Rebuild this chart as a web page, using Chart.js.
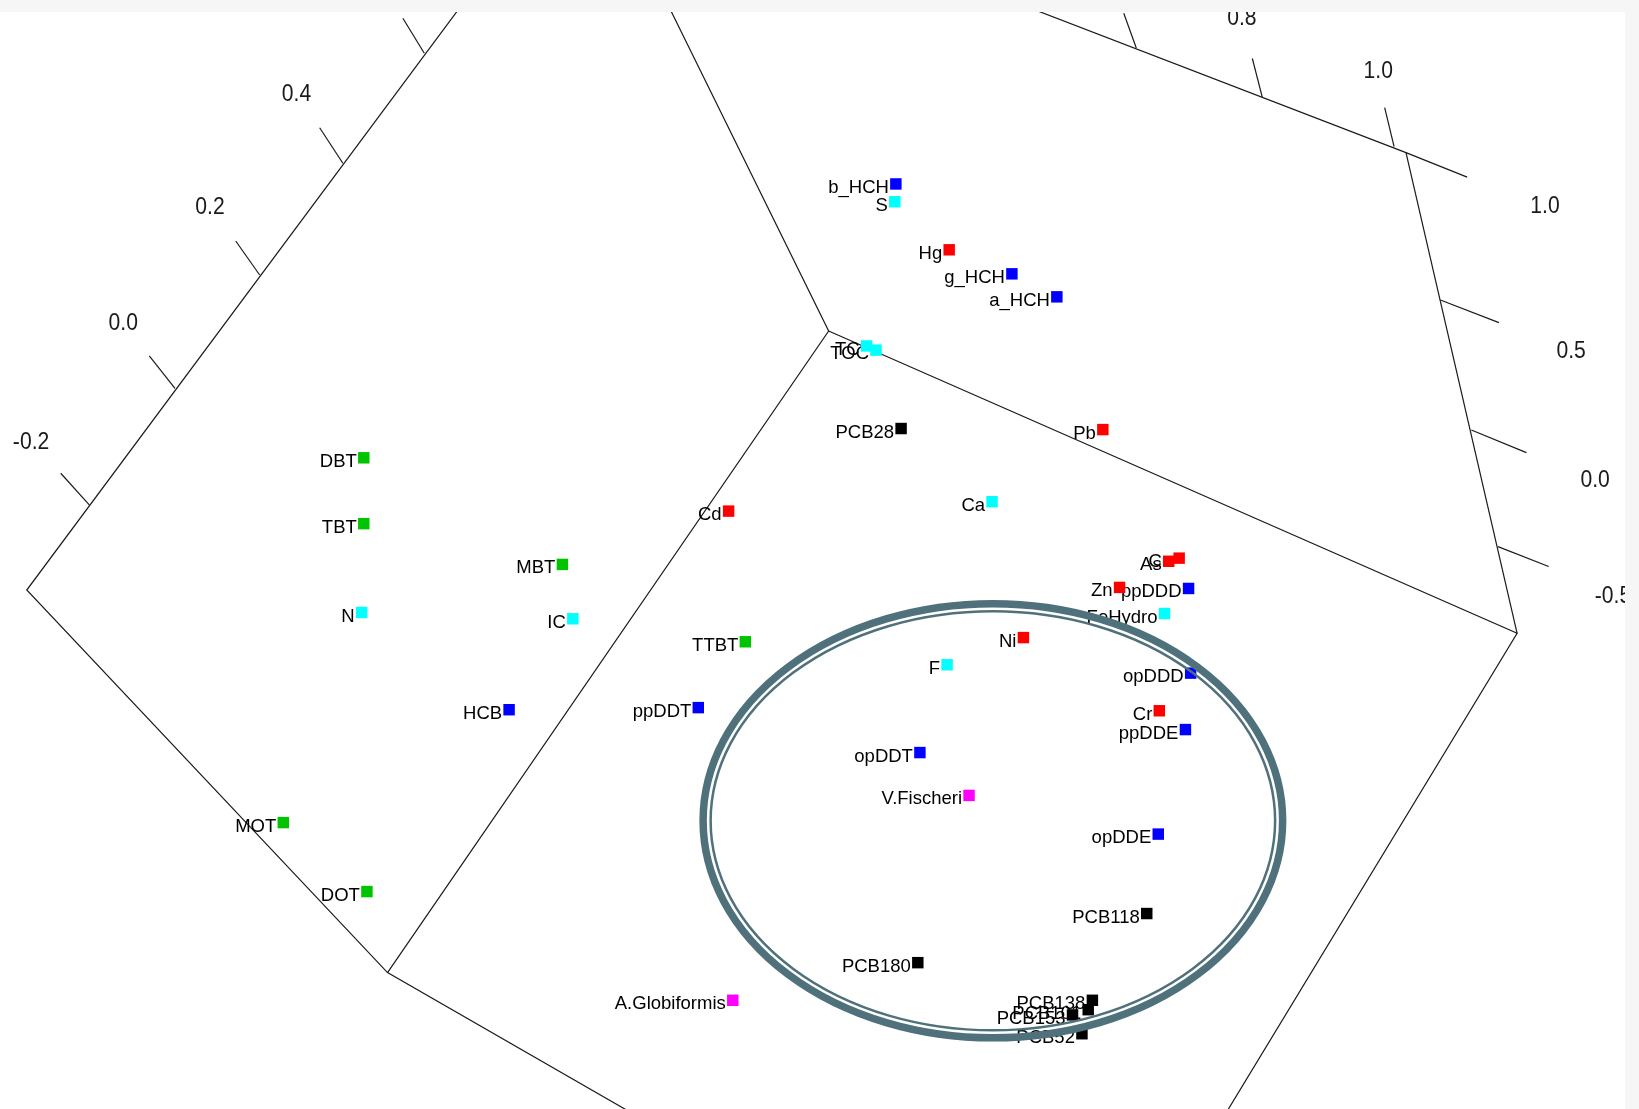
<!DOCTYPE html>
<html>
<head>
<meta charset="utf-8">
<title>3D scatter</title>
<script src="https://cdn.jsdelivr.net/npm/chart.js@4.4.0/dist/chart.umd.min.js"></script>
<style>
  html, body { margin: 0; padding: 0; background: #f6f6f6; }
  #wrap { width: 1639px; height: 1109px; }
</style>
</head>
<body>
<div id="wrap"><canvas id="chart" width="1639" height="1109"></canvas></div>
<script>
// --- data: projected view coordinates ---
const names = ['b_HCH', 'S', 'Hg', 'g_HCH', 'a_HCH', 'TC', 'TOC', 'PCB28', 'Pb', 'DBT',
  'Cd', 'Ca', 'TBT', 'As', 'Cu', 'MBT', 'Zn', 'ppDDD', 'N', 'IC',
  'FeHydro', 'TTBT', 'Ni', 'F', 'opDDD', 'HCB', 'ppDDT', 'Cr', 'ppDDE', 'opDDT',
  'V.Fischeri', 'MOT', 'opDDE', 'DOT', 'PCB118', 'PCB180', 'A.Globiformis', 'PCB138', 'PCB101', 'PCB153',
  'PCB52'];
const px = [0.57, 0.56, 1.08, 1.68, 2.11, 0.29, 0.38, 0.62, 2.55, -4.52,
  -1.03, 1.49, -4.52, 3.18, 3.28, -2.62, 2.71, 3.37, -4.54, -2.52,
  3.14, -0.87, 1.79, 1.06, 3.39, -3.13, -1.32, 3.09, 3.34, 0.80,
  1.27, -5.29, 3.08, -4.49, 2.97, 0.78, -0.99, 2.45, 2.41, 2.26,
  2.35];
const py = [3.54, 3.37, 2.91, 2.68, 2.46, 1.99, 1.95, 1.20, 1.19, 0.92,
  0.41, 0.50, 0.29, -0.07, -0.04, -0.10, -0.32, -0.33, -0.56, -0.62,
  -0.57, -0.84, -0.80, -1.06, -1.14, -1.49, -1.47, -1.50, -1.68, -1.90,
  -2.31, -2.57, -2.68, -3.23, -3.44, -3.91, -4.27, -4.27, -4.36, -4.41,
  -4.59];
const groups = ['oc', 'sed', 'metal', 'oc', 'oc', 'sed', 'sed', 'pcb', 'metal', 'tin',
  'metal', 'sed', 'tin', 'metal', 'metal', 'tin', 'metal', 'oc', 'sed', 'sed',
  'sed', 'tin', 'metal', 'sed', 'oc', 'oc', 'oc', 'metal', 'oc', 'oc',
  'bio', 'tin', 'oc', 'tin', 'pcb', 'pcb', 'bio', 'pcb', 'pcb', 'pcb',
  'pcb'];
const groupNames = ['metal', 'oc', 'tin', 'sed', 'pcb', 'bio'];
const groupColors = ['#ff0000', '#0000ff', '#00c400', '#00ffff', '#000000', '#ff00ff'];

// 3D box edges as polylines
const edgeX = [
  [-3.547, -7.744, -4.293, -1.693],
  [-4.293, -0.073, -1.633],
  [-0.073, 6.513, 3.636],
  [6.513, 5.45],
  [1.654, 5.45, 6.035]
];
const edgeY = [
  [5.30, -0.345, -4.005, -5.50],
  [-4.005, 2.133, 5.30],
  [2.133, -0.759, -5.50],
  [-0.759, 3.84],
  [5.30, 3.84, 3.605]
];

// tick marks (start on axis, end outside)
const tickX = [
  [-3.941, -4.146], [-4.72, -4.942], [-5.516, -5.745], [-6.326, -6.572], [-7.146, -7.419],
  [2.87, 2.75], [4.075, 3.98], [5.336, 5.246],
  [5.779, 6.339], [6.075, 6.602], [6.33, 6.815]
];
const tickY = [
  [4.79, 5.125], [3.738, 4.078], [2.669, 2.994], [1.585, 1.894], [0.469, 0.772],
  [4.84, 5.173], [4.37, 4.74], [3.897, 4.27],
  [2.43, 2.213], [1.186, 0.97], [0.07, -0.12]
];

// tick labels
const tickText = ['-0.2', '0.0', '0.2', '0.4', '0.8', '1.0', '1.0', '0.5', '0.0', '-0.5'];
const tickTextX = [-7.703, -6.821, -5.991, -5.164, 3.88, 5.185, 6.78, 7.03, 7.259, 7.43];
const tickTextY = [1.065, 2.207, 3.317, 4.398, 5.12, 4.616, 3.323, 1.936, 0.708, -0.408];

// highlighted cluster ring
const ringCenter = [1.498, -2.5525];
const ringRadii = [2.772, 2.077];
const innerRadii = [2.70, 2.0045];

// --- datasets ---
const pointSets = groupNames.map((g, gi) => ({
  label: g,
  isPoint: true,
  data: names.map((n, i) => ({ x: px[i], y: py[i], name: n })).filter((p, i) => groups[i] === g),
  pointStyle: 'rect',
  pointRadius: 8.1,
  pointHoverRadius: 8.1,
  borderWidth: 0,
  backgroundColor: groupColors[gi],
  borderColor: groupColors[gi]
}));

const lineSet = (xs, ys, w) => ({
  data: xs.map((v, i) => ({ x: v, y: ys[i] })),
  showLine: true,
  pointRadius: 0,
  borderColor: '#1a1a1a',
  borderWidth: w,
  fill: false,
  tension: 0
});

const frameSets = edgeX.map((xs, i) => lineSet(xs, edgeY[i], 1.2))
  .concat(tickX.map((xs, i) => lineSet(xs, tickY[i], 1.2)));

let labelsDone = false;

const overlay = {
  id: 'overlay',
  beforeDraw(chart) {
    const { ctx, chartArea: a } = chart;
    ctx.save();
    ctx.fillStyle = '#f6f6f6';
    ctx.fillRect(0, 0, chart.width, chart.height);
    ctx.fillStyle = '#ffffff';
    ctx.fillRect(a.left, a.top, a.right - a.left, a.bottom - a.top);
    ctx.restore();
  },
  beforeDatasetsDraw() {
    labelsDone = false;
  },
  beforeDatasetDraw(chart, args) {
    if (labelsDone || !chart.data.datasets[args.index].isPoint) return;
    labelsDone = true;
    const { ctx, chartArea: a, scales: { x, y } } = chart;
    ctx.save();
    ctx.beginPath();
    ctx.rect(a.left, a.top, a.right - a.left, a.bottom - a.top);
    ctx.clip();
    ctx.font = '18.5px "Liberation Sans", Arial, sans-serif';
    ctx.fillStyle = '#000';
    ctx.textAlign = 'right';
    ctx.textBaseline = 'alphabetic';
    names.forEach((n, i) => {
      ctx.fillText(n, x.getPixelForValue(px[i]) - 7, y.getPixelForValue(py[i]) + 9);
    });
    ctx.restore();
  },
  afterDatasetsDraw(chart) {
    const { ctx, chartArea: a, scales: { x, y } } = chart;
    ctx.save();
    ctx.beginPath();
    ctx.rect(a.left, a.top, a.right - a.left, a.bottom - a.top);
    ctx.clip();

    // axis tick labels (narrow look)
    ctx.font = '24px "Liberation Sans", Arial, sans-serif';
    ctx.fillStyle = '#1a1a1a';
    ctx.textAlign = 'center';
    ctx.textBaseline = 'middle';
    tickText.forEach((t, i) => {
      const tx = x.getPixelForValue(tickTextX[i]);
      const ty = y.getPixelForValue(tickTextY[i]);
      ctx.save();
      ctx.translate(tx, ty);
      ctx.scale(0.88, 1);
      ctx.fillText(t, 0, 0);
      ctx.restore();
    });

    // ring around the cluster
    const cx = x.getPixelForValue(ringCenter[0]);
    const cy = y.getPixelForValue(ringCenter[1]);
    const rx = x.getPixelForValue(ringCenter[0] + ringRadii[0]) - cx;
    const ry = cy - y.getPixelForValue(ringCenter[1] + ringRadii[1]);
    const irx = x.getPixelForValue(ringCenter[0] + innerRadii[0]) - cx;
    const iry = cy - y.getPixelForValue(ringCenter[1] + innerRadii[1]);
    ctx.strokeStyle = '#4f717c';
    ctx.lineWidth = 7.5;
    ctx.beginPath();
    ctx.ellipse(cx, cy, rx, ry, 0, 0, Math.PI * 2);
    ctx.stroke();
    ctx.lineWidth = 2.5;
    ctx.beginPath();
    ctx.ellipse(cx, cy, irx, iry, 0, 0, Math.PI * 2);
    ctx.stroke();
    ctx.restore();
  }
};

new Chart(document.getElementById('chart'), {
  type: 'scatter',
  data: { datasets: pointSets.concat(frameSets) },
  options: {
    responsive: false,
    animation: false,
    layout: { autoPadding: false, padding: { top: 12, right: 14, left: 0, bottom: 0 } },
    scales: {
      x: { type: 'linear', min: -8.0, max: 7.545, display: false },
      y: { type: 'linear', min: -5.31, max: 5.185, display: false }
    },
    plugins: {
      legend: { display: false },
      tooltip: { enabled: false }
    }
  },
  plugins: [overlay]
});
</script>
</body>
</html>
